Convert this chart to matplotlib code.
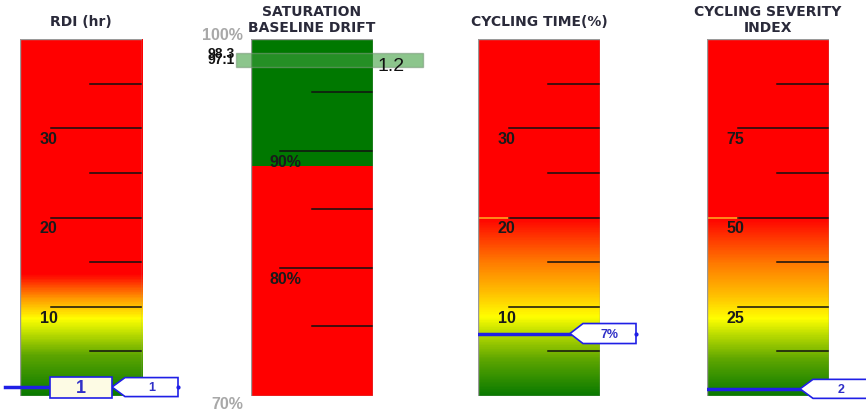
import numpy as np
import matplotlib.pyplot as plt
from matplotlib.colors import LinearSegmentedColormap
from matplotlib.patches import Rectangle, Polygon
from matplotlib.transforms import blended_transform_factory

plt.rcParams["font.family"] = ["Liberation Sans", "DejaVu Sans"]

# ---- data ----
titles = ["RDI (hr)", "SATURATION\nBASELINE DRIFT", "CYCLING TIME(%)", "CYCLING SEVERITY\nINDEX"]
scale_lo = [0, 70, 0, 0]
scale_hi = [40, 100, 40, 100]
major_ticks = [[10, 20, 30], [80, 90], [10, 20, 30], [25, 50, 75]]
major_labels = [["10", "20", "30"], ["80%", "90%"], ["10", "20", "30"], ["25", "50", "75"]]
minor_ticks = [[5, 15, 25, 35], [75, 85, 95], [5, 15, 25, 35], [12.5, 37.5, 62.5, 87.5]]

rdi_value = 1
rdi_label = "1"
cycling_time = 7
cycling_time_label = "7%"
severity = 2
severity_label = "2"

sat_green_from = 88.7
sat_band = [97.1, 98.3]
sat_band_labels = ["97.1", "98.3"]
sat_drift = "1.2"

# colour ramps (value, colour); red above the last stop
ramp_top = [14, None, 20, 50]
ramp_stops = [
    [(0, "#0a7a00"), (4.5, "#5ea600"), (7.2, "#c8e400"), (8.6, "#ffff00"), (10.8, "#ff9c00"), (13.6, "#ff0000")],
    None,
    [(0, "#0a7a00"), (4, "#5ea600"), (7.2, "#c2e000"), (8.8, "#ffff00"), (11.5, "#ffc000"), (15, "#ff7a00"), (20, "#ff0000")],
    [(0, "#0a7a00"), (10, "#5ea600"), (17.5, "#c2e000"), (21.5, "#ffff00"), (28, "#ffc000"), (37, "#ff7a00"), (50, "#ff0000")],
]

W, H = 866, 414
bar_left = [20, 251, 478, 707]
bar_w = 122
bar_top, bar_bot = 40, 397
bar_h = bar_bot - bar_top

fig = plt.figure(figsize=(W / 100, H / 100), dpi=100)

BLUE = "#1f1fe6"
TXT_BLUE = "#3030c8"


def pointer(ax, x0, x1, v, text, lo, hi, half_px=10, fs=9):
    tr = blended_transform_factory(ax.transAxes, ax.transData)
    dh = half_px * (hi - lo) / bar_h
    notch = 13 / bar_w
    pts = [(x0, v), (x0 + notch, v + dh), (x1, v + dh), (x1, v - dh), (x0 + notch, v - dh)]
    ax.add_patch(Polygon(pts, closed=True, facecolor="white", edgecolor=BLUE,
                         lw=1.2, transform=tr, clip_on=False, zorder=6))
    ax.text((x0 + notch + x1) / 2, v, text, transform=tr, ha="center", va="center",
            fontsize=fs, fontweight="bold", color=TXT_BLUE, zorder=7, clip_on=False)
    ax.plot([x1], [v], marker="o", ms=2, color=BLUE, transform=tr, clip_on=False, zorder=7)


axes = []
for i in range(4):
    lo, hi = scale_lo[i], scale_hi[i]
    ax = fig.add_axes([bar_left[i] / W, (H - bar_bot) / H, bar_w / W, bar_h / H])
    ax.set_xlim(0, 1)
    if i == 1:
        # saturation scale sits a few pixels higher than its bar
        ax.set_ylim(lo - 0.98, hi - 0.47)
    else:
        ax.set_ylim(lo, hi)
    ax.axis("off")
    axes.append(ax)
    y0, y1 = ax.get_ylim()

    if ramp_stops[i] is not None:
        stops = ramp_stops[i] + [(hi, "#ff0000")]
        cmap = LinearSegmentedColormap.from_list(
            f"g{i}", [((v - lo) / (hi - lo), c) for v, c in stops])
        grad = np.linspace(0, 1, 400).reshape(-1, 1)
        ax.imshow(grad, cmap=cmap, aspect="auto", origin="lower",
                  extent=[0, 1, lo, hi], zorder=1)
        if i in (2, 3):
            ax.plot([0, 0.25], [ramp_top[i], ramp_top[i]], color="#ffa020", lw=1.2, zorder=3)
    else:
        ax.add_patch(Rectangle((0, y0), 1, sat_green_from - y0, facecolor="#ff0000", zorder=1))
        ax.add_patch(Rectangle((0, sat_green_from), 1, y1 - sat_green_from, facecolor="#007800", zorder=1))

    ax.add_patch(Rectangle((0, 0), 1, 1, transform=ax.transAxes, fill=False,
                           edgecolor="#9a9a9a", lw=1.0, zorder=5))

    maj_x = 0.25 if i != 1 else 0.24
    min_x = 0.57 if i != 1 else 0.5
    for t, lab in zip(major_ticks[i], major_labels[i]):
        ax.plot([maj_x, 1], [t, t], color="#111111", lw=1.1, zorder=4)
        ax.text(0.16 if i != 1 else 0.15, t - 10.5 * (y1 - y0) / bar_h, lab, ha="left", va="center",
                fontsize=11.5, fontweight="bold", color="#1a1a1a", zorder=4)
    for t in minor_ticks[i]:
        ax.plot([min_x, 1], [t, t], color="#111111", lw=1.1, zorder=4)

    two_line = "\n" in titles[i]
    ax.text(0.5, 1 + (20 if two_line else 18) / bar_h, titles[i], transform=ax.transAxes,
            ha="center", va="center", fontsize=10, fontweight="bold", color="#2a2a3a",
            linespacing=1.1, family="DejaVu Sans")

# RDI marker: line, value box and pointer
ax = axes[0]
tr = blended_transform_factory(ax.transAxes, ax.transData)
ax.plot([-15 / bar_w, 30 / bar_w], [rdi_value, rdi_value], color=BLUE, lw=2.5,
        transform=tr, clip_on=False, zorder=6)
dh = 10.5 * (scale_hi[0] - scale_lo[0]) / bar_h
ax.add_patch(Rectangle((30 / bar_w, rdi_value - dh * 1.05), 62 / bar_w, 2 * dh, transform=tr,
                       facecolor="#fdfbe4", edgecolor=BLUE, lw=1.2, clip_on=False, zorder=7))
ax.text(61 / bar_w, rdi_value - dh * 0.05, rdi_label, transform=tr, ha="center", va="center",
        fontsize=13, fontweight="bold", color=TXT_BLUE, zorder=8)
pointer(ax, 92 / bar_w, 158 / bar_w, rdi_value, rdi_label, scale_lo[0], scale_hi[0], half_px=9.5)

# Cycling time marker
ax = axes[2]
ax.plot([0, 92 / bar_w], [cycling_time, cycling_time], color=BLUE, lw=2.5, zorder=6)
pointer(ax, 92 / bar_w, 158 / bar_w, cycling_time, cycling_time_label, scale_lo[2], scale_hi[2])

# Severity marker
ax = axes[3]
ax.plot([0, 93 / bar_w], [severity, severity], color=BLUE, lw=2.5, zorder=6)
pointer(ax, 93 / bar_w, 162 / bar_w, severity, severity_label, scale_lo[3], scale_hi[3], half_px=9.5)

# Saturation extras
ax = axes[1]
tr = blended_transform_factory(ax.transAxes, ax.transData)
ax.text(-8 / 120, 1 + 5 / bar_h, "100%", transform=ax.transAxes, ha="right", va="center",
        fontsize=11.5, fontweight="bold", color="#a8a8a8", clip_on=False)
ax.text(-8 / 120, -8 / bar_h, "70%", transform=ax.transAxes, ha="right", va="center",
        fontsize=11.5, fontweight="bold", color="#a8a8a8", clip_on=False)
ax.add_patch(Rectangle((-15 / 120, sat_band[0]), 184 / 120, sat_band[1] - sat_band[0], transform=tr,
                       facecolor="#3f9f3f", alpha=0.6, edgecolor="#7a9a7a", lw=1.0,
                       clip_on=False, zorder=6))
mid = (sat_band[0] + sat_band[1]) / 2
ax.text(-16 / 120, mid + 0.62, sat_band_labels[1], transform=tr, ha="right", va="center",
        fontsize=10, fontweight="bold", color="#111111", clip_on=False, zorder=7)
ax.text(-16 / 120, mid + 0.12, sat_band_labels[0], transform=tr, ha="right", va="center",
        fontsize=10, fontweight="bold", color="#111111", clip_on=False, zorder=7)
ax.text(124 / 120, sat_band[0] + 0.2, sat_drift, transform=tr, ha="left", va="center",
        fontsize=14, color="#111111", clip_on=False, zorder=7)

fig.savefig("out.png", dpi=100)
